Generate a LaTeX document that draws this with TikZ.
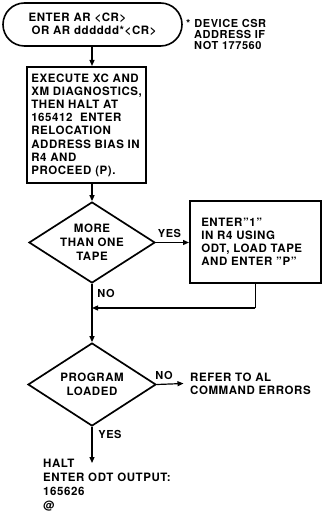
\documentclass[tikz,border=0pt]{standalone}
\usepackage{fontspec}
\setmainfont{TeX Gyre Heros}[LetterSpace=5]
\usetikzlibrary{arrows.meta,shapes.geometric}
\begin{document}
\begin{tikzpicture}[x=1pt,y=-1pt,
  txt/.style={font=\bfseries\fontsize{11.5}{13.2}\selectfont, align=left, inner sep=0pt},
  lbl/.style={font=\bfseries\fontsize{11}{13}\selectfont, inner sep=0pt},
  conn/.style={line width=1.2pt},
  arr/.style={conn,-{Triangle[length=6pt,width=5pt]}},
  dia/.style={diamond, draw, line width=1.7pt, inner sep=0pt},
  dtxt/.style={font=\bfseries\fontsize{11.5}{14}\selectfont, align=center, inner sep=0pt},
]
\useasboundingbox (0,0) rectangle (321,513);
% terminal
\node[txt, draw, line width=1.6pt, rounded corners=21.5pt, minimum width=179pt, minimum height=43pt] (term) at (92.5,24.5)
  {ENTER AR <CR>\\\hspace*{3pt}OR AR dddddd*<CR>};
% footnote
\node[txt, font=\bfseries\fontsize{11}{11.2}\selectfont, anchor=north west] (note) at (186,19)
  {*\hspace{4pt}DEVICE CSR\\\hspace*{8pt}ADDRESS IF\\\hspace*{8pt}NOT 177560};
% box 2
\node[txt, draw, line width=2.2pt, minimum width=119pt, minimum height=116pt, anchor=north west] (box2) at (26,66)
  {EXECUTE XC AND\\XM DIAGNOSTICS,\\THEN HALT AT\\165412\ \ ENTER\\RELOCATION\\ADDRESS BIAS IN\\R4 AND\\PROCEED (P).};
% diamond 1
\node[dia, minimum width=126pt, minimum height=81pt,
  label={[dtxt]center:{MORE\\THAN ONE\\TAPE}}] (d1) at (92,242.5) {};
% box 3
\node[txt, draw, line width=1.5pt, text width=108pt, minimum width=131pt, minimum height=82pt, anchor=north west] (box3) at (189,200)
  {ENTER''1''\\IN R4 USING\\ODT, LOAD TAPE\\AND ENTER ''P''};
% diamond 2
\node[dia, minimum width=128pt, minimum height=83pt,
  label={[dtxt]center:{PROGRAM\\LOADED}}] (d2) at (92,384.5) {};
% refer text
\node[txt, inner xsep=6.5pt, anchor=west] (refer) at (183.5,383.5) {REFER TO AL\\COMMAND ERRORS};
% halt text
\node[txt, font=\bfseries\fontsize{11.5}{14}\selectfont, anchor=north west] (halt) at (43,459)
  {HALT\\ENTER ODT OUTPUT:\\165626\\@};
\coordinate (j) at (92,308);
% labels
\node[lbl] (yes1) at (169.5,233) {YES};
\node[lbl] (no1) at (106,293) {NO};
\node[lbl] (no2) at (164,375) {NO};
\node[lbl] (yes2) at (110,434) {YES};
% connectors
\draw[arr] (term.south -| d1.north) -- (d1.north |- box2.north);
\draw[arr] (d1.north |- box2.south) -- (d1.north);
\draw[arr] (d1.east) -- (box3.west |- d1.east);
\draw[conn] (box3.south) -- (box3.south |- j);
\draw[arr] (box3.south |- j) -- (j);
\draw[arr] (d1.south) -- (d2.north);
\draw[arr] (d2.east) -- (refer.west);
\draw[arr] (d2.south) -- ([yshift=-4pt]d2.south |- halt.north);
\end{tikzpicture}
\end{document}
